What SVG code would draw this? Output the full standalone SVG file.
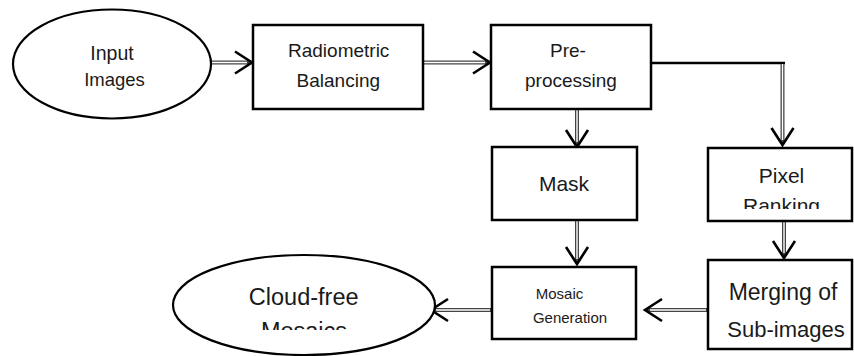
<svg xmlns="http://www.w3.org/2000/svg" width="854" height="356" viewBox="0 0 854 356">
  <style>
    .box { fill: #fff; stroke: #000; stroke-width: 2.5; }
    .ell { fill: #fff; stroke: #000; stroke-width: 2.2; }
    .lbl { font-family: "Liberation Sans", Arial, sans-serif; fill: #1a1a1a; text-anchor: middle; }
    .outer { fill: none; stroke: #444; stroke-width: 4; }
    .inner { fill: none; stroke: #fff; stroke-width: 1.4; }
    .head { fill: none; stroke: #000; stroke-width: 2.6; stroke-linejoin: miter; }
    .solid { fill: none; stroke: #000; stroke-width: 2.6; }
  </style>
  <defs>
    <clipPath id="clipRanking"><rect x="700" y="140" width="154" height="69"/></clipPath>
    <clipPath id="clipMosaics"><rect x="170" y="250" width="270" height="80"/></clipPath>
  </defs>
  <rect width="854" height="356" fill="#fff"/>

  <g id="connectors">
    <g id="c-input-radio">
      <path class="outer" d="M211,62.5 H251"/>
      <path class="inner" d="M211,62.5 H247"/>
      <path class="head" d="M235,51.5 L252,62.5 L235,73.5"/>
    </g>
    <g id="c-radio-pre">
      <path class="outer" d="M423,62.5 H489"/>
      <path class="inner" d="M424,62.5 H485"/>
      <path class="head" d="M473,51.5 L490,62.5 L473,73.5"/>
    </g>
    <g id="c-pre-pixel">
      <path class="solid" d="M651,63 H785"/>
      <path class="outer" d="M782.5,64 V144"/>
      <path class="inner" d="M782.5,64 V140"/>
      <path class="head" d="M771.5,128 L782.5,145 L793.5,128"/>
    </g>
    <g id="c-pre-mask">
      <path class="outer" d="M577,109 V146"/>
      <path class="inner" d="M577,110 V142"/>
      <path class="head" d="M566,130 L577,147 L588,130"/>
    </g>
    <g id="c-mask-mosaic">
      <path class="outer" d="M577,220 V263"/>
      <path class="inner" d="M577,221 V259"/>
      <path class="head" d="M566,247 L577,264 L588,247"/>
    </g>
    <g id="c-pixel-merging">
      <path class="outer" d="M784,221 V257"/>
      <path class="inner" d="M784,222 V253"/>
      <path class="head" d="M773,241 L784,258 L795,241"/>
    </g>
    <g id="c-merging-mosaic">
      <path class="outer" d="M707,310 H646"/>
      <path class="inner" d="M706,310 H650"/>
      <path class="head" d="M662,299 L645,310 L662,321"/>
    </g>
    <g id="c-mosaic-cloud">
      <path class="outer" d="M491,310 H432"/>
      <path class="inner" d="M490,310 H436"/>
      <path class="head" d="M448,299 L431,310 L448,321"/>
    </g>
  </g>

  <g id="n-input">
    <ellipse class="ell" cx="112" cy="64" rx="99" ry="54.5"/>
    <text class="lbl" x="112" y="60" font-size="19.5">Input</text>
    <text class="lbl" x="114.5" y="85.5" font-size="18.5">Images</text>
  </g>

  <g id="n-radiometric">
    <rect class="box" x="253" y="25" width="170" height="84"/>
    <text class="lbl" x="338.7" y="57" font-size="19">Radiometric</text>
    <text class="lbl" x="338.3" y="87" font-size="19">Balancing</text>
  </g>

  <g id="n-preprocessing">
    <rect class="box" x="491" y="25" width="160" height="84"/>
    <text class="lbl" x="568" y="57" font-size="19">Pre-</text>
    <text class="lbl" x="571" y="87" font-size="19">processing</text>
  </g>

  <g id="n-mask">
    <rect class="box" x="492" y="147" width="145" height="73"/>
    <text class="lbl" x="564" y="191" font-size="21">Mask</text>
  </g>

  <g id="n-pixel">
    <rect class="box" x="708" y="148" width="144" height="73"/>
    <text class="lbl" x="781.5" y="183" font-size="21">Pixel</text>
    <text class="lbl" x="781.5" y="213" font-size="21" clip-path="url(#clipRanking)">Ranking</text>
  </g>

  <g id="n-mosaic">
    <rect class="box" x="492" y="267" width="144" height="72"/>
    <text class="lbl" x="559.5" y="299" font-size="15">Mosaic</text>
    <text class="lbl" x="570" y="323" font-size="15">Generation</text>
  </g>

  <g id="n-merging">
    <rect class="box" x="708" y="260" width="144" height="89"/>
    <text class="lbl" x="783" y="300" font-size="23">Merging of</text>
    <text class="lbl" x="786" y="336.5" font-size="22">Sub-images</text>
  </g>

  <g id="n-cloudfree">
    <ellipse class="ell" cx="304" cy="305" rx="131" ry="50"/>
    <text class="lbl" x="303.7" y="305" font-size="23.5">Cloud-free</text>
    <text class="lbl" x="304" y="339" font-size="23.5" clip-path="url(#clipMosaics)">Mosaics</text>
  </g>
</svg>
